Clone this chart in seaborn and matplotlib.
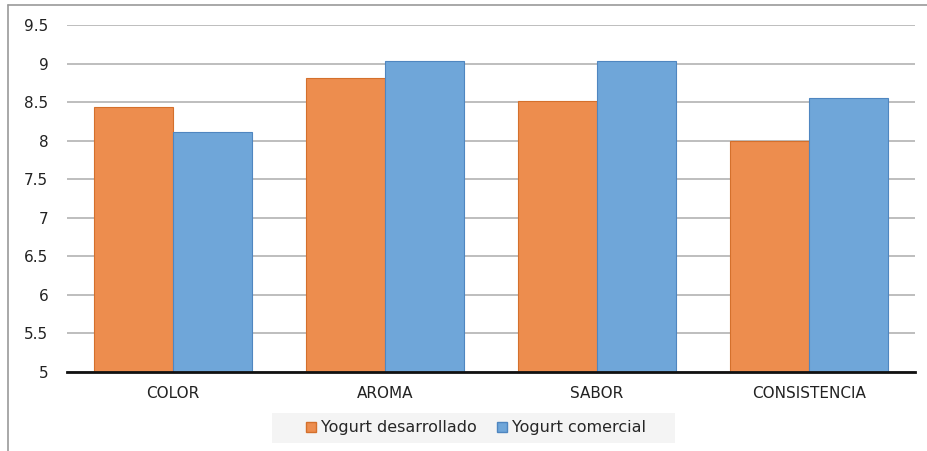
import matplotlib
matplotlib.use("Agg")
import matplotlib.pyplot as plt
import seaborn as sns
import pandas as pd
from matplotlib.lines import Line2D
from matplotlib.patches import Patch, Rectangle

categories = ["COLOR", "AROMA", "SABOR", "CONSISTENCIA"]
series_names = ["Yogurt desarrollado", "Yogurt comercial"]
desarrollado = [8.44, 8.81, 8.51, 8.00]
comercial = [8.11, 9.03, 9.03, 8.55]
y_ticks = [5, 5.5, 6, 6.5, 7, 7.5, 8, 8.5, 9, 9.5]
y_tick_labels = ["5", "5.5", "6", "6.5", "7", "7.5", "8", "8.5", "9", "9.5"]

colors = ["#ED8D4E", "#6FA6D9"]
edges = ["#D4702C", "#4F86C0"]

df = pd.DataFrame({
    "cat": categories * 2,
    "serie": [series_names[0]] * 4 + [series_names[1]] * 4,
    "val": desarrollado + comercial,
})

sns.set_style("white")
plt.rcParams["font.family"] = ["DejaVu Sans"]

fig = plt.figure(figsize=(9.28, 4.51), dpi=100)
ax = fig.add_axes([0.0722, 0.1752, 0.914, 0.7694])

sns.barplot(data=df, x="cat", y="val", hue="serie", order=categories,
            hue_order=series_names, palette=colors, saturation=1, width=0.745, gap=0,
            ax=ax, legend=False)

for i, cont in enumerate(ax.containers):
    for p in cont.patches:
        p.set_edgecolor(edges[i])
        p.set_linewidth(0.8)

ax.set_ylim(5, 9.5)
ax.set_xlim(-0.5, 3.5)
ax.set_yticks(y_ticks)
ax.set_yticklabels(y_tick_labels, fontsize=11, color="#222222")
ax.tick_params(axis="x", labelsize=11, colors="#222222", length=0, pad=10)
ax.tick_params(axis="y", length=0, pad=13.5)
ax.set_xlabel("")
ax.set_ylabel("")
ax.yaxis.grid(True, color="#B3B3B3", linewidth=1.2)
ax.set_axisbelow(True)
for s in ["left", "right", "top"]:
    ax.spines[s].set_visible(False)
ax.spines["bottom"].set_color("#111111")
ax.spines["bottom"].set_linewidth(2.0)
ax.spines["bottom"].set_zorder(5)

# legend background box
fig.add_artist(Rectangle((272/928, 1 - 443/451), 403/928, 30/451, transform=fig.transFigure,
                         facecolor="#F4F4F4", edgecolor="none", zorder=0))

handles = [Patch(facecolor=colors[0], edgecolor=edges[0]),
           Patch(facecolor=colors[1], edgecolor=edges[1])]
leg = fig.legend(handles, series_names, loc="center", bbox_to_anchor=(0.513, 0.051),
                 ncol=2, frameon=False, fontsize=11.5, handlelength=0.6, handleheight=0.6,
                 handletextpad=0.3, columnspacing=1.3, borderpad=0.45)

fig.add_artist(Line2D([8/928, 1.0], [1 - 5/451, 1 - 5/451], transform=fig.transFigure,
                      color="#9A9A9A", linewidth=1.2))
fig.add_artist(Line2D([8/928, 8/928], [0, 1 - 5/451], transform=fig.transFigure,
                      color="#9A9A9A", linewidth=1.2))

fig.savefig("out.png", dpi=100)
